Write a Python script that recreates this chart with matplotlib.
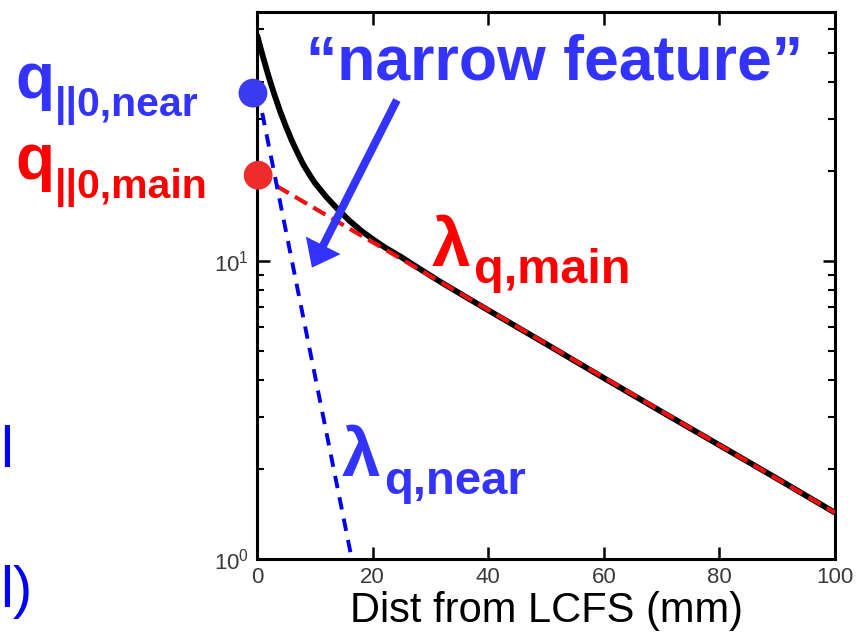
import numpy as np
import matplotlib
matplotlib.use("Agg")
from matplotlib import pyplot as plt

plt.rcParams['font.family'] = ['Liberation Sans', 'DejaVu Sans']
plt.rcParams['mathtext.default'] = 'regular'

dist = [0, 1, 2, 3, 4, 5, 6, 7, 8, 9, 10, 12, 14, 16, 18, 20, 22, 25, 28, 32, 36, 40,
        50, 60, 70, 80, 90, 100]
q_par = [57.5, 48.7, 41.7, 36.2, 31.8, 28.3, 25.4, 23.1, 21.1, 19.6, 18.3, 16.4, 14.9,
         13.65, 12.65, 11.85, 11.15, 10.3, 9.45, 8.45, 7.6, 6.84,
         5.27, 4.05, 3.12, 2.41, 1.86, 1.43]

# exponential fits (straight on log axis)
main_x = [0.2, 100]
main_q = [19.4, 1.43]
near_x = [0.9, 16.4]
near_q = [31.4, 1.0]

# q||0 markers
dot_x = [-0.7, 0.2]
dot_q = [36.6, 19.4]
dot_col = ['#3a3aee', '#ee2c2c']

# arrow: tail -> tip
arrow_from = (24.2, 34.7)
arrow_to = (9.5, 9.5)

BLUE = '#3333ff'
RED = '#ff0000'

W, H = 856, 641
fig = plt.figure(figsize=(W / 100, H / 100), dpi=100)
ax = fig.add_axes([257 / W, 1 - 559 / H, 578 / W, 547 / H])

ax.plot(dist, q_par, color='black', lw=4.2, solid_capstyle='butt', zorder=3)
ax.plot(main_x, main_q, color='#ee1111', lw=3.0, dashes=(3.4, 1.7), zorder=4)
ax.plot(near_x, near_q, color='#0000ee', lw=2.8, dashes=(3.2, 2.4), zorder=4)
ax.scatter(dot_x, dot_q, s=430, c=dot_col, zorder=6, clip_on=False, linewidths=0)

ax.annotate('', xy=arrow_to, xytext=arrow_from,
            arrowprops=dict(arrowstyle='simple,head_length=18,head_width=28,tail_width=5.8',
                            mutation_scale=1, lw=0, fc=BLUE, ec=BLUE,
                            shrinkA=0, shrinkB=0), zorder=7)

ax.set_yscale('log')
ax.set_xlim(0, 100)
ax.set_ylim(1, 68.5)
ax.set_xticks([0, 20, 40, 60, 80, 100])
ax.tick_params(which='both', direction='in', top=True, right=True,
               labelsize=16, labelcolor='#3a3a3a', colors='black')
ax.tick_params(which='major', length=9, width=1.8, pad=6)
ax.tick_params(which='minor', length=5, width=1.5)
ax.tick_params(axis='y', which='minor', labelleft=False)
for s in ax.spines.values():
    s.set_linewidth(2.2)

ax.set_xlabel('Dist from LCFS (mm)', fontsize=30, labelpad=2)


def px(x, y):
    return x / W, 1 - y / H


# big annotations
fig.text(*px(306, 80), '\u201cnarrow feature\u201d', color=BLUE, fontsize=45,
         fontweight='bold', va='baseline', ha='left')

fig.text(*px(15, 98), 'q', color=BLUE, fontsize=46, fontweight='bold', va='baseline')
fig.text(*px(55, 116), '||0,near', color=BLUE, fontsize=29.5, fontweight='bold', va='baseline')
fig.text(*px(15, 179), 'q', color=RED, fontsize=46, fontweight='bold', va='baseline')
fig.text(*px(55, 198), '||0,main', color=RED, fontsize=29.5, fontweight='bold', va='baseline')

fig.text(*px(432, 266), '\u03bb', color=RED, fontsize=50, fontweight='bold', va='baseline')
fig.text(*px(474, 283), 'q,main', color=RED, fontsize=35, fontweight='bold', va='baseline')
fig.text(*px(342, 476), '\u03bb', color=BLUE, fontsize=50, fontweight='bold', va='baseline')
fig.text(*px(384, 494), 'q,near', color=BLUE, fontsize=34, fontweight='bold', va='baseline')

# cut-off slide text at left edge
fig.text(*px(0, 467), 'l', color='#0000ff', fontsize=42, va='baseline')
fig.text(*px(0, 607), 'l)', color='#0000ff', fontsize=42, va='baseline')

fig.savefig('out.png', dpi=100)
